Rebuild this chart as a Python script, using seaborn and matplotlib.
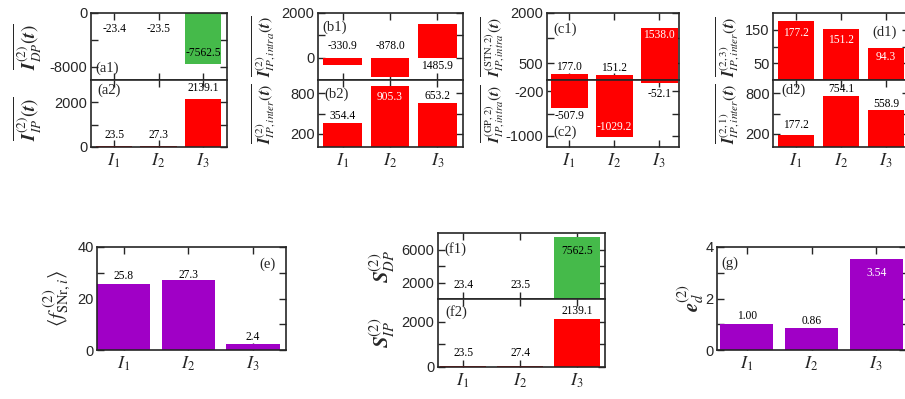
import matplotlib
matplotlib.use("Agg")
import matplotlib.pyplot as plt
import seaborn as sns

sns.set_style("ticks")
plt.rcParams['font.family'] = ['Liberation Sans', 'DejaVu Sans']
plt.rcParams['mathtext.fontset'] = 'stix'
plt.rcParams['axes.unicode_minus'] = False

# data
cats = ["$I_1$", "$I_2$", "$I_3$"]
dp_mean = [-23.4, -23.5, -7562.5]
ip_mean = [23.5, 27.3, 2139.1]
ip_intra = [-330.9, -878.0, 1485.9]
ip_inter = [354.4, 905.3, 653.2]
stn_intra = [177.0, 151.2, 1538.0]
gp_intra = [-507.9, -1029.2, -52.1]
inter_23 = [177.2, 151.2, 94.3]
inter_21 = [177.2, 754.1, 558.9]
f_snr = [25.8, 27.3, 2.4]
s_dp = [23.4, 23.5, 7562.5]
s_ip = [23.5, 27.4, 2139.1]
e_d = [1.00, 0.86, 3.54]

RED = "#ff0000"
GREEN = "#45ba4a"
PURPLE = "#a000c6"

W, H = 905, 399
fig = plt.figure(figsize=(W / 100, H / 100), dpi=100)


def box(x0, x1, y0, y1):
	return fig.add_axes([x0 / W, 1 - y1 / H, (x1 - x0) / W, (y1 - y0) / H])


def panel(ax, vals, color, ylim, major, minor, xlim, tag, tagpos, offs,
		  white=(), base=None, fmt="%.1f", xlabels=True):
	sns.barplot(x=cats, y=vals, color=color, saturation=1, width=0.82,
				edgecolor="none", linewidth=0, ax=ax)
	ax.set_xlim(*xlim)
	ax.set_ylim(*ylim)
	ax.set_yticks(major)
	ax.set_yticks(minor, minor=True)
	ax.set_xlabel("")
	ax.set_ylabel("")
	ax.tick_params(which="both", direction="in", top=True, right=True,
				   length=4.7, width=1.0, labelsize=10.5, pad=2.5)
	ax.tick_params(axis="x", labelsize=13, pad=3, labelbottom=xlabels)
	for sp in ax.spines.values():
		sp.set_linewidth(1.2)
	for i, v in enumerate(vals):
		yb = v if base is None else base
		ax.annotate(fmt % v, (i, yb), xytext=(0, offs[i] * 0.72),
					textcoords="offset points", ha="center", va="center",
					fontsize=8.3, family="Liberation Serif",
					color="white" if i in white else "black")
	ax.text(tagpos[0], tagpos[1], tag, transform=ax.transAxes, ha="left",
			va="center", fontsize=10.5, family="Liberation Serif")


def ylab(ax, x, text, y=0.5, size=14):
	ax.text(x, y, text, rotation=90, ha="center", va="center",
			transform=ax.transAxes, fontsize=size)


# (a)
a1 = box(91, 227, 13, 80)
panel(a1, dp_mean, GREEN, (-10000, 0), [-8000, 0], [-4000], (-0.52, 2.54),
	  "(a1)", (0.03, 0.18), [-16, -16, 11], xlabels=False)
ylab(a1, -0.47, r"$\overline{\mathbfit{I}^{(2)}_{DP}(\mathbfit{t})}$", size=13.5)
a2 = box(91, 227, 80, 147)
panel(a2, ip_mean, RED, (0, 3000), [0, 2000], [1000], (-0.52, 2.54),
	  "(a2)", (0.05, 0.85), [11, 11, 11])
ylab(a2, -0.47, r"$\overline{\mathbfit{I}^{(2)}_{IP}(\mathbfit{t})}$", y=0.42, size=13.5)

# (b)
b1 = box(318, 463, 13, 80)
panel(b1, ip_intra, RED, (-1000, 2000), [0, 2000], [1000], (-0.52, 2.54),
	  "(b1)", (0.03, 0.79), [12, 12, -8], base=0, xlabels=False)
ylab(b1, -0.37, r"$\overline{\mathbfit{I}^{(2)}_{IP,intra}(\mathbfit{t})}$", size=11.5)
b2 = box(318, 463, 80, 147)
panel(b2, ip_inter, RED, (0, 1000), [200, 800], [500], (-0.52, 2.54),
	  "(b2)", (0.045, 0.79), [7, -11, 7], white=(1,))
ylab(b2, -0.37, r"$\overline{\mathbfit{I}^{(2)}_{IP,inter}(\mathbfit{t})}$", size=11.5)

# (c)
c1 = box(547, 679, 13, 80)
panel(c1, stn_intra, RED, (0, 2000), [500, 2000], [1250], (-0.49, 2.44),
	  "(c1)", (0.05, 0.75), [7, 7, -7], white=(2,), xlabels=False)
ylab(c1, -0.41, r"$\overline{\mathbfit{I}^{(\mathrm{STN},2)}_{IP,intra}(\mathbfit{t})}$", size=11)
c2 = box(547, 679, 80, 147)
panel(c2, gp_intra, RED, (-1200, 0), [-1000, -200], [-600], (-0.49, 2.44),
	  "(c2)", (0.05, 0.22), [-8, 10, -11], white=(1,))
ylab(c2, -0.41, r"$\overline{\mathbfit{I}^{(\mathrm{GP},2)}_{IP,intra}(\mathbfit{t})}$", size=11)

# (d)
d1 = box(773, 909, 13, 80)
panel(d1, inter_23, RED, (0, 200), [50, 150], [100], (-0.51, 2.51),
	  "(d1)", (0.73, 0.72), [-12, -11, -9], white=(0, 1, 2), xlabels=False)
ylab(d1, -0.33, r"$\overline{\mathbfit{I}^{(2,3)}_{IP,inter}(\mathbfit{t})}$", size=11.5)
d2 = box(773, 909, 80, 147)
panel(d2, inter_21, RED, (0, 1000), [200, 800], [500], (-0.51, 2.51),
	  "(d2)", (0.06, 0.84), [10, 7.5, 6])
ylab(d2, -0.33, r"$\overline{\mathbfit{I}^{(2,1)}_{IP,inter}(\mathbfit{t})}$", size=11.5)

# (e)
e = box(97, 286, 247, 350)
panel(e, f_snr, PURPLE, (0, 40), [0, 20, 40], [10, 30], (-0.41, 2.51),
	  "(e)", (0.86, 0.83), [8, 5, 7])
ylab(e, -0.21, r"$\langle f^{\ (2)}_{\mathrm{SNr},i}\rangle$", size=15)

# (f)
f1 = box(438, 605, 233, 299)
panel(f1, s_dp, GREEN, (0, 8000), [2000, 6000], [4000], (-0.44, 2.49),
	  "(f1)", (0.04, 0.755), [14, 14, -14], xlabels=False)
ylab(f1, -0.33, r"$\mathbfit{S}^{(2)}_{DP}$", size=15)
f2 = box(438, 605, 299, 367)
panel(f2, s_ip, RED, (0, 3000), [0, 2000], [1000], (-0.44, 2.49),
	  "(f2)", (0.045, 0.81), [13, 13, 8])
ylab(f2, -0.33, r"$\mathbfit{S}^{(2)}_{IP}$", size=15)

# (g)
g = box(717, 906, 247, 350)
panel(g, e_d, PURPLE, (0, 4), [0, 2, 4], [1, 3], (-0.46, 2.46),
	  "(g)", (0.025, 0.845), [8, 7, -14], white=(2,), fmt="%.2f")
ylab(g, -0.14, r"$\mathbfit{e}^{(2)}_{d}$", size=15)

fig.savefig("out.png", dpi=100)
